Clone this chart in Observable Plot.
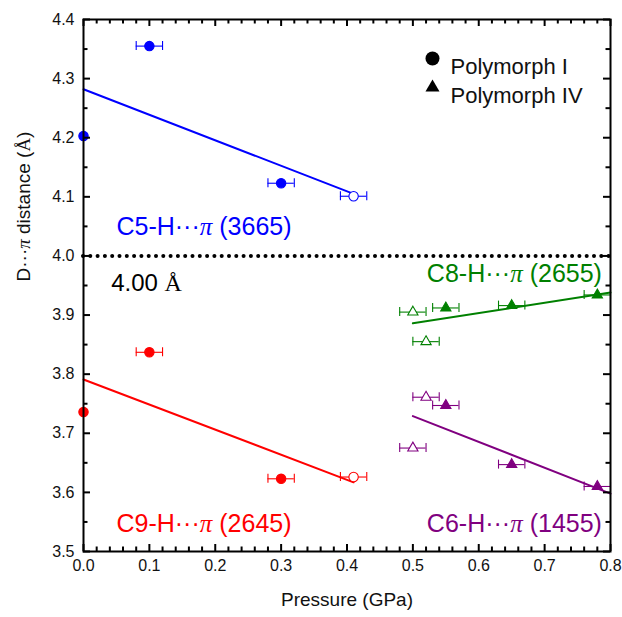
<!DOCTYPE html>
<html><head><meta charset="utf-8">
<script src="https://cdn.jsdelivr.net/npm/d3@7"></script>
<script src="https://cdn.jsdelivr.net/npm/@observablehq/plot@0.6"></script>
<style>body{margin:0;background:#fff}</style>
</head><body><div id="chart"></div>
<script>
// ---- data ----
const seriesKeys = ["C5", "C9", "C8", "C6"];
const seriesLabels = ["C5-H···π (3665)", "C9-H···π (2645)", "C8-H···π (2655)", "C6-H···π (1455)"];
const seriesColors = ["#0000ff", "#ff0000", "#008000", "#800080"];

const c5Pressure = [0, 0.1, 0.3, 0.41];
const c5Distance = [4.203, 4.355, 4.123, 4.101];
const c5Form = ["I", "I", "I", "I"];
const c5Filled = [true, true, true, false];
const c5Error = [0, 0.02, 0.02, 0.02];

const c9Pressure = [0, 0.1, 0.3, 0.41];
const c9Distance = [3.736, 3.837, 3.623, 3.626];
const c9Form = ["I", "I", "I", "I"];
const c9Filled = [true, true, true, false];
const c9Error = [0, 0.02, 0.02, 0.02];

const c8Pressure = [0.50, 0.52, 0.55, 0.65, 0.78];
const c8Distance = [3.905, 3.855, 3.912, 3.916, 3.934];
const c8Form = ["IV", "IV", "IV", "IV", "IV"];
const c8Filled = [false, false, true, true, true];
const c8Error = [0.02, 0.02, 0.02, 0.02, 0.02];

const c6Pressure = [0.52, 0.50, 0.55, 0.65, 0.78];
const c6Distance = [3.761, 3.675, 3.747, 3.647, 3.610];
const c6Form = ["IV", "IV", "IV", "IV", "IV"];
const c6Filled = [false, false, true, true, true];
const c6Error = [0.02, 0.02, 0.02, 0.02, 0.02];

// linear fits (end points)
const c5FitPressure = [0, 0.41];   const c5FitDistance = [4.282, 4.105];
const c9FitPressure = [0, 0.41];   const c9FitDistance = [3.791, 3.617];
const c8FitPressure = [0.5, 0.8];  const c8FitDistance = [3.886, 3.938];
const c6FitPressure = [0.5, 0.8];  const c6FitDistance = [3.729, 3.598];

// label anchors in data space
const labelPressure = [0.05, 0.05, 0.787, 0.787];
const labelDistance = [4.049, 3.547, 3.970, 3.547];
const labelAnchor = ["start", "start", "end", "end"];

const thresholdDistance = 4.0;
const thresholdLabel = "4.00 Å";
const thresholdLabelPressure = 0.042;
const thresholdLabelDistance = 3.954;

const legendLabels = ["Polymorph I", "Polymorph IV"];
const legendSymbols = ["circle", "triangle"];

const xTicks = [0, 0.1, 0.2, 0.3, 0.4, 0.5, 0.6, 0.7, 0.8];
const xTickLabels = ["0.0", "0.1", "0.2", "0.3", "0.4", "0.5", "0.6", "0.7", "0.8"];
const yTicks = [3.5, 3.6, 3.7, 3.8, 3.9, 4.0, 4.1, 4.2, 4.3, 4.4];
const yTickLabels = ["3.5", "3.6", "3.7", "3.8", "3.9", "4.0", "4.1", "4.2", "4.3", "4.4"];

const xLabel = "Pressure (GPa)";
const yLabel = "D···π distance (Å)";

// ---- build tables ----
const raw = {
  C5: [c5Pressure, c5Distance, c5Form, c5Filled, c5Error],
  C9: [c9Pressure, c9Distance, c9Form, c9Filled, c9Error],
  C8: [c8Pressure, c8Distance, c8Form, c8Filled, c8Error],
  C6: [c6Pressure, c6Distance, c6Form, c6Filled, c6Error]
};
const fits = {
  C5: [c5FitPressure, c5FitDistance], C9: [c9FitPressure, c9FitDistance],
  C8: [c8FitPressure, c8FitDistance], C6: [c6FitPressure, c6FitDistance]
};
const colorOf = Object.fromEntries(seriesKeys.map((k, i) => [k, seriesColors[i]]));
const points = seriesKeys.flatMap(k => {
  const [p, d, f, fl, e] = raw[k];
  return p.map((v, i) => ({series: k, x: v, y: d[i], form: f[i], filled: fl[i], err: e[i]}));
});
const fitRows = seriesKeys.flatMap(k => fits[k][0].map((v, i) => ({series: k, x: v, y: fits[k][1][i]})));
const labels = seriesKeys.map((k, i) => ({series: k, text: seriesLabels[i], x: labelPressure[i], y: labelDistance[i], anchor: labelAnchor[i]}));
const errRows = points.filter(d => d.err > 0);

// ---- geometry ----
const W = 622, H = 617;
const mT = 19, mR = 12, mB = 66, mL = 83;
const plotW = W - mL - mR, plotH = H - mT - mB;
const xDom = [0, 0.8], yDom = [3.5, 4.4];
const yPerPx = (yDom[1] - yDom[0]) / plotH;
const xPerPx = (xDom[1] - xDom[0]) / plotW;
const capHalf = 4.5 * yPerPx;
const majorLen = 7, minorLen = 4.5;
const xMinor = d3.range(0, 41).map(i => i * 0.02).filter(v => Math.abs(v * 10 - Math.round(v * 10)) > 1e-6);
const yMinor = d3.range(0, 9).map(i => 3.55 + i * 0.1);

const sans = "Arial, 'Liberation Sans', Helvetica, sans-serif";
const tickStyle = {stroke: "black", strokeWidth: 2};

const marks = [
  // fitted lines
  ...seriesKeys.map(k => Plot.line(fitRows.filter(d => d.series === k), {x: "x", y: "y", stroke: colorOf[k], strokeWidth: 2})),
  // error bars
  Plot.ruleY(errRows, {y: "y", x1: d => d.x - d.err, x2: d => d.x + d.err, stroke: d => colorOf[d.series], strokeWidth: 1.1}),
  Plot.ruleX(errRows, {x: d => d.x - d.err, y1: d => d.y - capHalf, y2: d => d.y + capHalf, stroke: d => colorOf[d.series], strokeWidth: 1.1}),
  Plot.ruleX(errRows, {x: d => d.x + d.err, y1: d => d.y - capHalf, y2: d => d.y + capHalf, stroke: d => colorOf[d.series], strokeWidth: 1.1}),
  // points
  Plot.dot(points.filter(d => d.form === "I"), {x: "x", y: "y", symbol: "circle", r: 4.7,
    fill: d => d.filled ? colorOf[d.series] : "white", stroke: d => colorOf[d.series], strokeWidth: 1.1}),
  Plot.dot(points.filter(d => d.form === "IV"), {x: "x", y: "y", symbol: "triangle", r: 3.8,
    fill: d => d.filled ? colorOf[d.series] : "white", stroke: d => colorOf[d.series], strokeWidth: 1.1}),
  // threshold dotted line
  Plot.ruleY([thresholdDistance], {stroke: "black", strokeWidth: 4, strokeDasharray: "0 7.3", strokeLinecap: "round"}),
  Plot.text([thresholdLabel], {x: thresholdLabelPressure, y: thresholdLabelDistance, text: d => d, textAnchor: "start", fill: "black", fontSize: 24}),
  // series labels
  Plot.text(labels.filter(d => d.anchor === "start"), {x: "x", y: "y", text: "text", textAnchor: "start", fill: d => colorOf[d.series], fontSize: 25}),
  Plot.text(labels.filter(d => d.anchor === "end"), {x: "x", y: "y", text: "text", textAnchor: "end", fill: d => colorOf[d.series], fontSize: 25}),
  // tick labels
  Plot.text(xTicks, {x: d => d, frameAnchor: "bottom", dy: 19, text: (d, i) => xTickLabels[i], fontSize: 16, fill: "#111"}),
  Plot.text(yTicks, {y: d => d, frameAnchor: "left", dx: -9, textAnchor: "end", text: (d, i) => yTickLabels[i], fontSize: 16, fill: "#111"}),
  // axis titles
  Plot.text([xLabel], {frameAnchor: "bottom", dy: 54, text: d => d, fontSize: 19, fill: "#111"}),
  Plot.text([yLabel], {frameAnchor: "left", dx: -60, dy: -4, rotate: -90, text: d => d, fontSize: 19, fill: "#111"}),
  Plot.frame({stroke: "black", strokeWidth: 2})
];

// legend entries (positioned relative to the top-right corner of the frame)
legendSymbols.forEach((s, i) => {
  marks.push(Plot.dot([s], {frameAnchor: "top-right", dx: -178, dy: 39 + i * 29, symbol: d => d, r: s === "circle" ? 7 : 5.2, fill: "black"}));
  marks.push(Plot.text([legendLabels[i]], {frameAnchor: "top-right", dx: -160, dy: 39 + i * 29, textAnchor: "start", text: d => d, fontSize: 22, fill: "#111"}));
});

// inward ticks on all four sides, drawn last so nothing paints over them
marks.push(
  Plot.ruleX(xTicks, {x: d => d, y1: yDom[0], y2: yDom[0] + majorLen * yPerPx, ...tickStyle}),
  Plot.ruleX(xTicks, {x: d => d, y1: yDom[1], y2: yDom[1] - majorLen * yPerPx, ...tickStyle}),
  Plot.ruleX(xMinor, {x: d => d, y1: yDom[0], y2: yDom[0] + minorLen * yPerPx, ...tickStyle}),
  Plot.ruleX(xMinor, {x: d => d, y1: yDom[1], y2: yDom[1] - minorLen * yPerPx, ...tickStyle}),
  Plot.ruleY(yTicks, {y: d => d, x1: xDom[0], x2: xDom[0] + majorLen * xPerPx, ...tickStyle}),
  Plot.ruleY(yTicks, {y: d => d, x1: xDom[1], x2: xDom[1] - majorLen * xPerPx, ...tickStyle}),
  Plot.ruleY(yMinor, {y: d => d, x1: xDom[0], x2: xDom[0] + minorLen * xPerPx, ...tickStyle}),
  Plot.ruleY(yMinor, {y: d => d, x1: xDom[1], x2: xDom[1] - minorLen * xPerPx, ...tickStyle})
);

const chart = Plot.plot({
  width: W, height: H,
  marginTop: mT, marginRight: mR, marginBottom: mB, marginLeft: mL,
  x: {domain: xDom, axis: null},
  y: {domain: yDom, axis: null},
  style: {fontFamily: sans, background: "white"},
  marks
});

// italic serif π and serif Å, as in the original
chart.querySelectorAll("text").forEach(t => {
  const nodes = t.querySelectorAll("tspan").length ? [...t.querySelectorAll("tspan")] : [t];
  nodes.forEach(node => {
    const s = node.textContent;
    if (!/[πÅ]/.test(s)) return;
    node.textContent = "";
    for (const part of s.split(/([πÅ])/)) {
      if (!part) continue;
      const ts = document.createElementNS("http://www.w3.org/2000/svg", "tspan");
      ts.textContent = part;
      if (part === "π") { ts.setAttribute("font-family", "'Liberation Serif', 'Times New Roman', serif"); ts.setAttribute("font-style", "italic"); }
      if (part === "Å") ts.setAttribute("font-family", "'Liberation Serif', 'Times New Roman', serif");
      node.appendChild(ts);
    }
  });
});
document.getElementById("chart").appendChild(chart);
</script>
</body></html>
